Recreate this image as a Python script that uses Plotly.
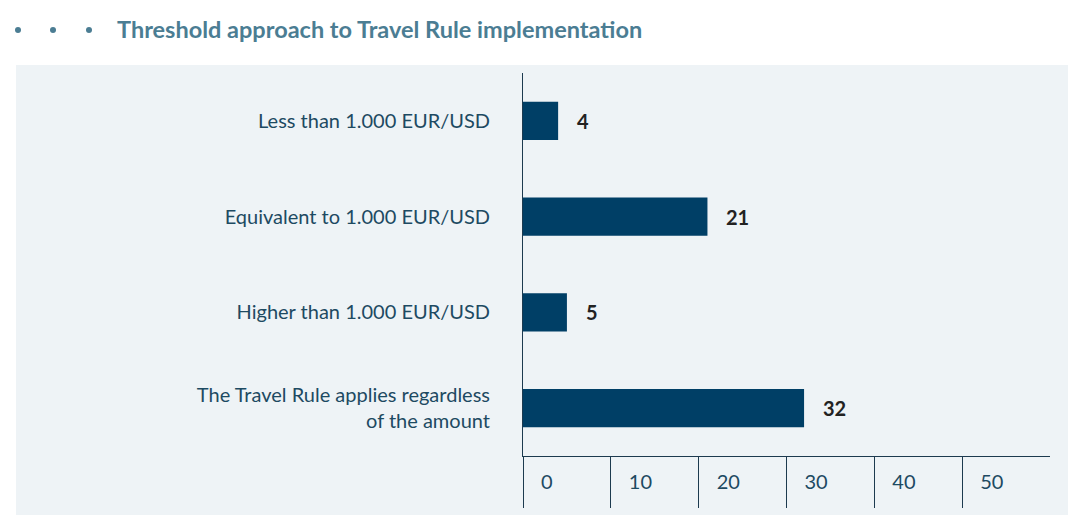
import plotly.graph_objects as go

# data
categories = [
    "Less than 1.000 EUR/USD",
    "Equivalent to 1.000 EUR/USD",
    "Higher than 1.000 EUR/USD",
    "The Travel Rule applies regardless<br>of the amount",
]
values = [4, 21, 5, 32]
tick_vals = [0, 10, 20, 30, 40, 50]
title_text = "Threshold approach to Travel Rule implementation"

BAR = "#003f66"
LABEL = "#1d4a62"
TITLE = "#4b7d93"
PANEL = "#eef3f6"
FONT = "Lato"

W, H = 1074, 531
L, R, T, B = 523, 24, 73, 75
pw, ph = W - L - R, H - T - B


def px_x(x):
    return (x - L) / pw


def px_y(y):
    return (H - B - y) / ph


fig = go.Figure(go.Bar(
    x=values,
    y=categories,
    orientation="h",
    marker=dict(color=BAR, line=dict(width=0)),
    width=0.4,
    hoverinfo="skip",
))

for c, v in zip(categories, values):
    fig.add_annotation(
        x=v, y=c, text=f"<b>{v}</b>", showarrow=False,
        xanchor="left", xshift=17,
        font=dict(family=FONT, size=20, color="#222222"),
    )

# panel background
fig.add_shape(
    type="rect", xref="paper", yref="paper", layer="below",
    x0=px_x(16), x1=px_x(1068), y0=px_y(515), y1=px_y(65),
    fillcolor=PANEL, line=dict(width=0),
)

# title bullets
for cx in [18, 53, 89]:
    fig.add_shape(
        type="circle", xref="paper", yref="paper",
        x0=px_x(cx - 3), x1=px_x(cx + 3),
        y0=px_y(30 + 3), y1=px_y(30 - 3),
        fillcolor=TITLE, line=dict(width=0),
    )

fig.add_annotation(
    xref="paper", yref="paper", x=px_x(115), y=px_y(29),
    xanchor="left", yanchor="middle", showarrow=False,
    text=f"<b>{title_text}</b>",
    font=dict(family=FONT, size=23.5, color=TITLE),
)

fig.update_layout(
    width=W, height=H,
    margin=dict(l=L, r=R, t=T, b=B, pad=0),
    paper_bgcolor="white",
    plot_bgcolor=PANEL,
    showlegend=False,
    font=dict(family=FONT, color=LABEL),
)

fig.update_xaxes(
    range=[0, 60],
    tickvals=tick_vals,
    ticks="outside", ticklen=51, tickwidth=1, tickcolor="#1c3a4f",
    showline=True, linecolor="#1c3a4f", linewidth=1,
    showgrid=False, zeroline=False,
    tickfont=dict(family=FONT, size=20, color=LABEL),
    ticklabelposition="outside right",
    ticklabelshift=17, ticklabelstandoff=8,
    fixedrange=True,
)

fig.update_yaxes(
    categoryorder="array", categoryarray=categories[::-1],
    showline=True, linecolor="#1c3a4f", linewidth=1,
    ticks="", showgrid=False, zeroline=False,
    tickfont=dict(family=FONT, size=20, color=LABEL),
    ticklabelstandoff=28,
    fixedrange=True,
)

fig.write_html(
    "out.html",
    config={"displayModeBar": False},
    post_script="document.body.style.margin='0';",
)
